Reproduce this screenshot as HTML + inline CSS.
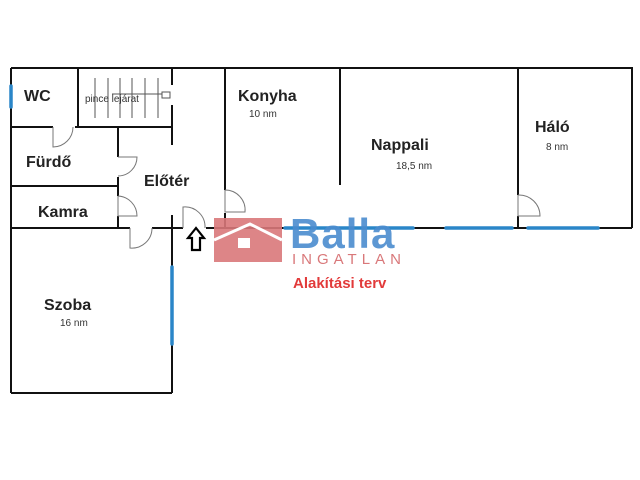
<!DOCTYPE html>
<html><head><meta charset="utf-8"><style>
body{margin:0;width:640px;height:480px;background:#fff;overflow:hidden;position:relative;font-family:"Liberation Sans",sans-serif}
.t{position:absolute;font-weight:bold;color:#222;font-size:16px}
.s{position:absolute;color:#333;font-size:10px}
</style></head><body>
<svg width="640" height="480" style="position:absolute;left:0;top:0">
<g stroke="#111" stroke-width="2" fill="none">
<polyline points="11,68 632,68 632,228"/>
<line x1="11" y1="68" x2="11" y2="393"/>
<line x1="11" y1="393" x2="172" y2="393"/>
<line x1="172" y1="228" x2="172" y2="393"/>
<line x1="11" y1="228" x2="130" y2="228"/>
<line x1="152" y1="228" x2="183" y2="228"/>
<line x1="206" y1="228" x2="632" y2="228"/>
<line x1="78" y1="68" x2="78" y2="127"/>
<line x1="11" y1="127" x2="53" y2="127"/>
<line x1="75" y1="127" x2="172" y2="127"/>
<line x1="172" y1="68" x2="172" y2="85"/>
<line x1="172" y1="105" x2="172" y2="145"/>
<line x1="118" y1="127" x2="118" y2="157"/>
<line x1="118" y1="177" x2="118" y2="196"/>
<line x1="118" y1="216" x2="118" y2="228"/>
<line x1="11" y1="186" x2="118" y2="186"/>
<line x1="172" y1="215" x2="172" y2="228"/>
<line x1="225" y1="68" x2="225" y2="190"/>
<line x1="225" y1="213" x2="225" y2="228"/>
<line x1="340" y1="68" x2="340" y2="185"/>
<line x1="518" y1="68" x2="518" y2="195"/>
<line x1="518" y1="216" x2="518" y2="228"/>
</g>
<g stroke="#555" stroke-width="1">
<line x1="95" y1="78" x2="95" y2="118"/><line x1="108" y1="78" x2="108" y2="118"/><line x1="120" y1="78" x2="120" y2="118"/><line x1="132" y1="78" x2="132" y2="118"/><line x1="145" y1="78" x2="145" y2="118"/><line x1="158" y1="78" x2="158" y2="118"/>
<line x1="112" y1="94" x2="162" y2="94"/><rect x="162" y="92" width="8" height="6" fill="none"/>
</g>
<g stroke="#777" stroke-width="1" fill="none">
<path d="M53,127 V147 A20,20 0 0 0 73,127"/>
<path d="M118,157 H137 A19,19 0 0 1 118,176"/>
<path d="M118,196 V216 H137 A20,20 0 0 0 118,196"/>
<path d="M130,228 V248 A20,20 0 0 0 152,228"/>
<path d="M183,228 V207 A20,20 0 0 1 205,228"/>
<path d="M225,190 V212 H245 A20,20 0 0 0 225,190"/>
<path d="M518,195 V216 H540 A21,21 0 0 0 518,195"/>
</g>
<g stroke="#2a86c8" stroke-width="3.5" stroke-linecap="round">
<line x1="11" y1="86" x2="11" y2="107"/>
<line x1="172" y1="267" x2="172" y2="344"/>
<line x1="285" y1="228" x2="413" y2="228"/>
<line x1="446" y1="228" x2="512" y2="228"/>
<line x1="528" y1="228" x2="598" y2="228"/>
</g>
<path d="M196,228 L188,238 H192 V250 H200 V238 H204 Z" fill="#fff" stroke="#000" stroke-width="2.2"/>
<rect x="214" y="218" width="68" height="44" fill="#d9787a" opacity="0.9"/>
<path d="M214,240 L250,224 L282,240" stroke="#fff" stroke-width="3" fill="none"/>
<rect x="238" y="238" width="12" height="10" fill="#fff"/>
<text x="290" y="248" font-family="Liberation Sans" font-weight="bold" font-size="42" letter-spacing="1" fill="#4b8ccf" opacity="0.9">Balla</text>
<text x="292" y="264" font-family="Liberation Sans" font-size="15" letter-spacing="5" fill="#d9787a">INGATLAN</text>
<text x="293" y="288" font-family="Liberation Sans" font-weight="bold" font-size="15" fill="#e23a3a">Alakítási terv</text>
</svg>
<div class="t" style="left:24px;top:88px">WC</div>
<div class="s" style="left:85px;top:94px;font-size:10px">pince lejárat</div>
<div class="t" style="left:26px;top:154px">Fürdő</div>
<div class="t" style="left:144px;top:173px">Előtér</div>
<div class="t" style="left:38px;top:204px">Kamra</div>
<div class="t" style="left:238px;top:88px">Konyha</div>
<div class="s" style="left:249px;top:109px">10 nm</div>
<div class="t" style="left:371px;top:137px">Nappali</div>
<div class="s" style="left:396px;top:161px">18,5 nm</div>
<div class="t" style="left:535px;top:119px">Háló</div>
<div class="s" style="left:546px;top:142px">8 nm</div>
<div class="t" style="left:44px;top:297px">Szoba</div>
<div class="s" style="left:60px;top:318px">16 nm</div>
</body></html>
